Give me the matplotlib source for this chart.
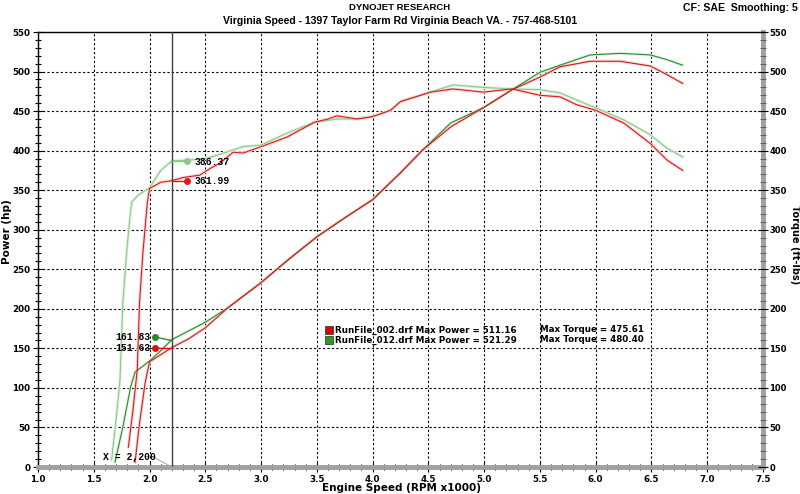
import matplotlib
matplotlib.use("Agg")
import matplotlib.pyplot as plt
import numpy as np
from matplotlib.ticker import MultipleLocator

# ---------------- data ----------------
# Run 002 (red)
rpm_tq_002 = [1.81, 1.85, 1.89, 1.91, 1.94, 1.98, 2.00, 2.10, 2.20, 2.30, 2.45, 2.55, 2.63, 2.75, 2.84,
              3.00, 3.23, 3.48, 3.60, 3.68, 3.86, 4.00, 4.16, 4.25, 4.52, 4.72, 4.99, 5.25, 5.50,
              5.68, 5.83, 6.00, 6.25, 6.49, 6.64, 6.78]
tq_002 = [25, 70, 123, 207, 270, 334, 352, 360, 362, 366, 369, 378, 384, 398, 397,
          405, 417, 436, 440, 444, 440, 443, 451, 462, 474, 478, 474, 478, 470,
          468, 458, 451, 435, 409, 388, 375]

rpm_hp_002 = [1.87, 1.91, 1.96, 2.00, 2.10, 2.20, 2.35, 2.50, 2.70, 2.99, 3.26, 3.50, 3.75, 4.00,
              4.25, 4.45, 4.70, 4.99, 5.25, 5.50, 5.68, 5.95, 6.22, 6.49, 6.64, 6.78]
hp_002 = [6, 55, 106, 133, 142, 151, 162, 176, 201, 232, 264, 291, 315, 338,
          372, 401, 430, 454, 477, 493, 506, 513, 513, 507, 496, 485]

# Run 012 (green)
rpm_tq_012 = [1.66, 1.70, 1.735, 1.76, 1.80, 1.825, 1.84, 1.90, 2.00, 2.10, 2.20, 2.35, 2.50, 2.60,
              2.84, 3.00, 3.23, 3.48, 3.68, 3.86, 4.00, 4.16, 4.25, 4.52, 4.72, 4.99, 5.25,
              5.50, 5.68, 5.83, 6.00, 6.25, 6.49, 6.64, 6.78]
tq_012 = [9, 60, 110, 207, 280, 316, 335, 344, 353, 375, 387, 388, 390, 394,
          405, 407, 422, 436, 440, 440, 443, 451, 462, 474, 483, 480, 478,
          477, 473, 464, 454, 439, 420, 403, 392]

rpm_hp_012 = [1.69, 1.76, 1.83, 1.87, 2.00, 2.10, 2.20, 2.35, 2.50, 2.70, 2.99, 3.26, 3.50, 3.75,
              4.00, 4.25, 4.45, 4.70, 4.99, 5.25, 5.50, 5.68, 5.95, 6.22, 6.49, 6.64, 6.78]
hp_012 = [6, 50, 101, 120, 134, 147, 161, 172, 183, 201, 232, 264, 291, 315,
          338, 372, 401, 435, 454, 477, 499, 508, 521, 523, 521, 515, 508]

cursor_rpm = 2.2
cursor_vals = {"tq_012": 386.37, "tq_002": 361.99, "hp_012": 161.83, "hp_002": 151.63}
legend_lines = ["RunFile_002.drf Max Power = 511.16", "RunFile_012.drf Max Power = 521.29"]
legend_torque = ["Max Torque = 475.61", "Max Torque = 480.40"]
x_ticks = [1.0, 1.5, 2.0, 2.5, 3.0, 3.5, 4.0, 4.5, 5.0, 5.5, 6.0, 6.5, 7.0, 7.5]
y_ticks = [0, 50, 100, 150, 200, 250, 300, 350, 400, 450, 500, 550]

# ---------------- styling ----------------
red_tq = "#e01818"
red_hp = "#c82020"
red_shadow = "#fbd6d6"
green_tq = "#8cc88c"
green_hp = "#2a8a2a"
green_shadow = "#e2f2e2"

fig = plt.figure(figsize=(8, 4.94), dpi=100)
ax = fig.add_axes([38 / 800, 27 / 494, 725 / 800, 435 / 494])
ax.set_xlim(1.0, 7.5)
ax.set_ylim(0, 550)

ax.xaxis.set_minor_locator(MultipleLocator(0.1))
ax.yaxis.set_minor_locator(MultipleLocator(10))
ax.grid(True, which="major", color="black", linestyle=(0, (2, 2)), linewidth=0.8)


def curve(x, y, color, shadow):
    ax.plot(x, y, color=shadow, lw=2.2, solid_capstyle="round", zorder=2)
    ax.plot(x, y, color=color, lw=0.8, zorder=3)


curve(rpm_tq_012, tq_012, green_tq, green_shadow)
curve(rpm_hp_012, hp_012, green_hp, green_shadow)
curve(rpm_tq_002, tq_002, red_tq, red_shadow)
curve(rpm_hp_002, hp_002, red_hp, red_shadow)

ax.axvline(cursor_rpm, color="#404040", lw=1.0, zorder=4)

mono = dict(family="Liberation Mono", fontweight="bold", fontsize=7, color="black")
# torque markers (right of cursor)
for key, col in (("tq_012", green_tq), ("tq_002", red_tq)):
    v = cursor_vals[key]
    mx = cursor_rpm + 0.135
    ax.plot([cursor_rpm, mx], [v, v], color=col, lw=1.0, zorder=5)
    ax.plot(mx, v, "o", color=col, ms=4, zorder=6)
    ax.text(mx + 0.07, v - 1, f"{v:.2f}", va="center", ha="left", zorder=7, **mono)
# power markers (left of cursor), labels spread apart slightly
for key, col, dy in (("hp_012", green_hp, 2.5), ("hp_002", "#e01010", -1.5)):
    v = cursor_vals[key]
    mx = cursor_rpm - 0.15
    ax.plot([mx, cursor_rpm], [v + dy, v - 2], color=col, lw=1.0, zorder=5)
    ax.plot(mx, v + dy, "o", color=col, ms=4, zorder=6)
    ax.text(mx - 0.04, v + dy, f"{v:.2f}", va="center", ha="right", zorder=7, **mono)

ax.text(1.58, 13, "X = 2,200", ha="left", va="center", zorder=7, **mono)
ax.plot([2.03, cursor_rpm], [13, 0], color="#b0b0b0", lw=0.8, zorder=4)

for s in ("top", "left"):
    ax.spines[s].set_color("black")
    ax.spines[s].set_linewidth(1.0)
for s in ("bottom", "right"):
    ax.spines[s].set_color("#a0a0a0")
    ax.spines[s].set_linewidth(3.5)

ax.tick_params(axis="both", which="major", direction="inout", length=7, width=0.8, pad=2)
ax.tick_params(axis="both", which="minor", direction="inout", length=5, width=0.8)
ax.set_xticks(x_ticks)
ax.set_xticklabels([f"{v:.1f}" for v in x_ticks], fontweight="bold", fontsize=6.3)
ax.set_yticks(y_ticks)
ax.set_yticklabels([str(v) for v in y_ticks], fontweight="bold", fontsize=6.3)

ax2 = ax.twinx()
ax2.set_ylim(0, 550)
ax2.yaxis.set_minor_locator(MultipleLocator(10))
ax2.set_yticks(y_ticks)
ax2.set_yticklabels([str(v) for v in y_ticks], fontweight="bold", fontsize=6.0)
ax2.tick_params(axis="y", which="major", direction="inout", length=7, width=0.8, pad=1)
ax2.tick_params(axis="y", which="minor", direction="inout", length=5, width=0.8, color="#606060")
for s in ax2.spines.values():
    s.set_visible(False)

# axis titles placed explicitly so they stay inside the canvas
fig.text(401 / 800, 1 - 488 / 494, "Engine Speed (RPM x1000)", ha="center", va="center",
         fontsize=7.5, fontweight="bold")
fig.text(7 / 800, 1 - 232 / 494, "Power (hp)", ha="center", va="center", rotation=90,
         fontsize=7.5, fontweight="bold")
fig.text(794.5 / 800, 1 - 245 / 494, "Torque (ft-lbs)", ha="center", va="center", rotation=270,
         fontsize=7.0, fontweight="bold")

# titles
fig.text(0.5, 1 - 8 / 494, "DYNOJET RESEARCH", ha="center", va="center",
         fontsize=6.8, fontweight="bold", family="Liberation Sans")
fig.text(0.5, 1 - 21 / 494, "Virginia Speed - 1397 Taylor Farm Rd Virginia Beach VA. - 757-468-5101",
         ha="center", va="center", fontsize=7.6, fontweight="bold", family="Liberation Sans")
fig.text(1 - 2 / 800, 1 - 8 / 494, "CF: SAE  Smoothing: 5", ha="right", va="center",
         fontsize=7.6, fontweight="bold", family="Liberation Sans")

# legend block
for i, (txt, ttxt, col) in enumerate(zip(legend_lines, legend_torque, ["#e00000", "#2a9a2a"])):
    y = 1 - (330 + i * 10) / 494
    fig.patches.append(plt.Rectangle((325 / 800, y - 4 / 494), 8 / 800, 8 / 494,
                                     transform=fig.transFigure, facecolor=col,
                                     edgecolor="#404040", lw=0.6, figure=fig))
    fig.text(335 / 800, y, txt, ha="left", va="center", fontsize=6.3, fontweight="bold")
    fig.text(540 / 800, y, ttxt, ha="left", va="center", fontsize=6.3, fontweight="bold")

fig.savefig("out.png", dpi=100)
